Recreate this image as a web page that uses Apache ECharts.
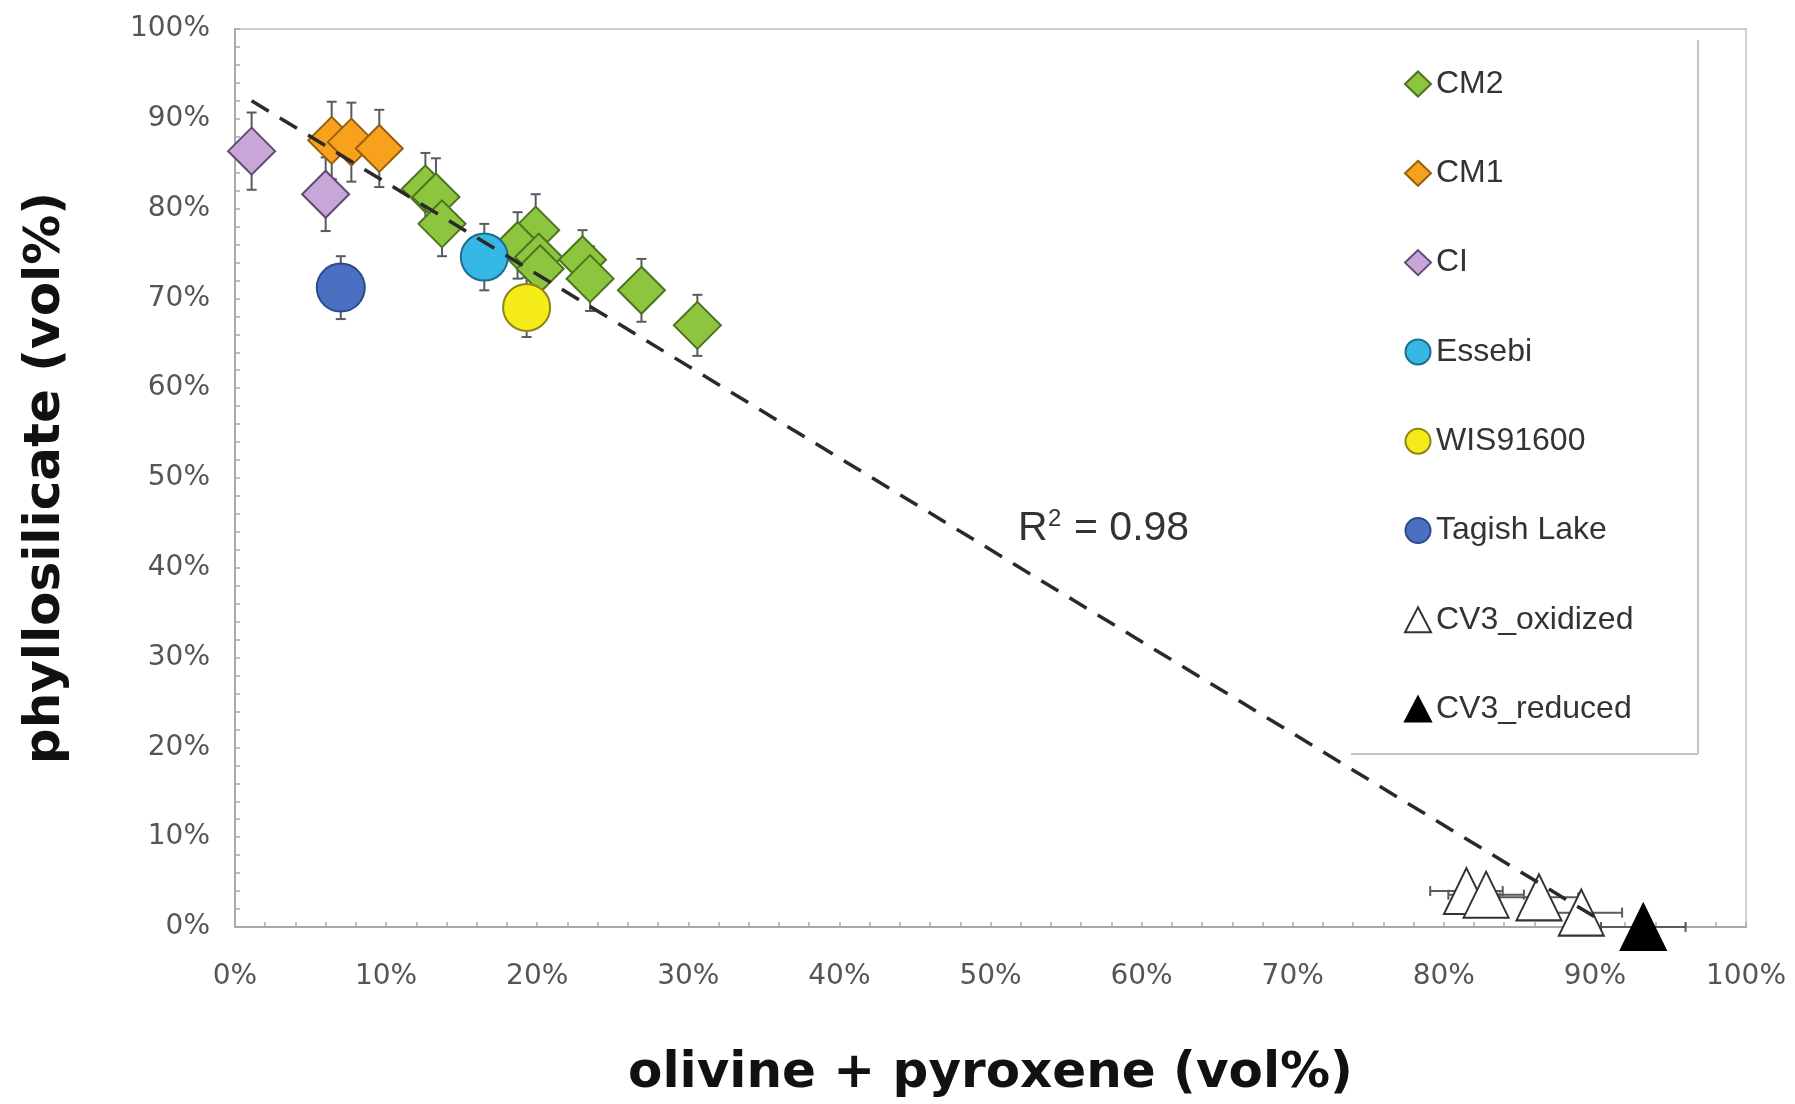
<!DOCTYPE html>
<html>
<head>
<meta charset="utf-8">
<script src="https://cdn.jsdelivr.net/npm/echarts@6/dist/echarts.min.js"></script>
<style>
html,body{margin:0;padding:0;background:#fff;}
#chart{width:1795px;height:1104px;}
</style>
</head>
<body>
<div id="chart"></div>
<script>
// ---- data ----
const tickLabels = ['0%','10%','20%','30%','40%','50%','60%','70%','80%','90%','100%'];

const cm2X   = [12.6, 13.3, 13.7, 19.9, 18.7, 20.1, 20.2, 23.0, 23.5, 26.9, 30.6];
const cm2Y   = [82.2, 81.3, 78.3, 77.6, 75.9, 74.6, 73.3, 74.3, 72.2, 70.9, 67.0];
const cm2Err = [4.0, 4.3, 3.6, 4.0, 3.7, 3.5, 3.5, 3.3, 3.6, 3.5, 3.4];

const cm1X   = [6.4, 7.7, 9.55];
const cm1Y   = [87.6, 87.4, 86.7];
const cm1Err = [4.3, 4.4, 4.3];

const ciX    = [1.1, 6.0];
const ciY    = [86.4, 81.6];
const ciErr  = [4.3, 4.1];

const essebiX   = [16.5];
const essebiY   = [74.6];
const essebiErr = [3.7];

const wisX   = [19.3];
const wisY   = [69.0];
const wisErr = [3.3];

const tagishX   = [7.0];
const tagishY   = [71.2];
const tagishErr = [3.5];

const cv3oxX    = [81.5, 82.8, 86.3, 89.1];
const cv3oxY    = [4.0, 3.6, 3.3, 1.6];
const cv3oxXErr = [2.4, 2.5, 2.6, 2.7];

const cv3redX    = [93.2];
const cv3redY    = [0];
const cv3redXErr = [2.8];

const fitX = [1.1, 90.5];
const fitY = [92.0, 0.6];

const seriesNames = ['CM2','CM1','CI','Essebi','WIS91600','Tagish Lake','CV3_oxidized','CV3_reduced'];

// ---- build ----
function pts(xs, ys){ return xs.map((x,i)=>[x, ys[i]]); }
function errPts(xs, ys, xe, ye){ return xs.map((x,i)=>[x, ys[i], xe ? xe[i] : 0, ye ? ye[i] : 0]); }

const errData = [].concat(
  errPts(cm2X, cm2Y, null, cm2Err),
  errPts(cm1X, cm1Y, null, cm1Err),
  errPts(ciX, ciY, null, ciErr),
  errPts(essebiX, essebiY, null, essebiErr),
  errPts(wisX, wisY, null, wisErr),
  errPts(tagishX, tagishY, null, tagishErr),
  errPts(cv3oxX, cv3oxY, cv3oxXErr, null),
  errPts(cv3redX, cv3redY, cv3redXErr, null)
);

const chart = echarts.init(document.getElementById('chart'), null, {renderer:'canvas'});

const errColor = '#5a5a5a';
const capHalf = 5;

function renderErr(params, api){
  const x = api.value(0), y = api.value(1), xe = api.value(2), ye = api.value(3);
  const children = [];
  const ls = {stroke: errColor, lineWidth: 2};
  if (ye > 0){
    const top = api.coord([x, y + ye]);
    const bot = api.coord([x, y - ye]);
    children.push({type:'line', shape:{x1:top[0], y1:top[1], x2:bot[0], y2:bot[1]}, style:ls});
    children.push({type:'line', shape:{x1:top[0]-capHalf, y1:top[1], x2:top[0]+capHalf, y2:top[1]}, style:ls});
    children.push({type:'line', shape:{x1:bot[0]-capHalf, y1:bot[1], x2:bot[0]+capHalf, y2:bot[1]}, style:ls});
  }
  if (xe > 0){
    const l = api.coord([x - xe, y]);
    const r = api.coord([x + xe, y]);
    children.push({type:'line', shape:{x1:l[0], y1:l[1], x2:r[0], y2:r[1]}, style:ls});
    children.push({type:'line', shape:{x1:l[0], y1:l[1]-capHalf, x2:l[0], y2:l[1]+capHalf}, style:ls});
    children.push({type:'line', shape:{x1:r[0], y1:r[1]-capHalf, x2:r[0], y2:r[1]+capHalf}, style:ls});
  }
  return {type:'group', children};
}

function scat(name, data, symbol, size, fill, border, z){
  return {
    name, type:'scatter', data, symbol, symbolSize:size, z, clip:false,
    itemStyle:{color:fill, borderColor:border, borderWidth:2, opacity:1},
    emphasis:{disabled:true}
  };
}

const option = {
  animation:false,
  backgroundColor:'#fff',
  grid:{left:235, right:49, top:29, bottom:176, show:true, borderColor:'#cfcfcf', borderWidth:2},
  xAxis:{
    type:'value', min:0, max:100, interval:10,
    name:'olivine + pyroxene (vol%)', nameLocation:'middle', nameGap:122,
    nameTextStyle:{fontFamily:'DejaVu Sans', fontWeight:'bold', fontSize:50, color:'#111'},
    axisLine:{show:true, lineStyle:{color:'#aaa', width:2}},
    axisTick:{show:true, inside:true, length:5, lineStyle:{color:'#aaa', width:1.5}},
    minorTick:{show:true, splitNumber:5, length:5, lineStyle:{color:'#aaa', width:1.5}},
    splitLine:{show:false},
    axisLabel:{margin:36, fontFamily:'DejaVu Sans', fontSize:28, color:'#555',
      formatter:v=>tickLabels[Math.round(v/10)]}
  },
  yAxis:{
    type:'value', min:0, max:100, interval:10,
    name:'phyllosilicate (vol%)', nameLocation:'middle', nameGap:164, nameRotate:90,
    nameTextStyle:{fontFamily:'DejaVu Sans', fontWeight:'bold', fontSize:50, color:'#111'},
    axisLine:{show:true, lineStyle:{color:'#aaa', width:2}},
    axisTick:{show:true, inside:true, length:5, lineStyle:{color:'#aaa', width:1.5}},
    minorTick:{show:true, splitNumber:5, length:5, lineStyle:{color:'#aaa', width:1.5}},
    splitLine:{show:false},
    axisLabel:{margin:25, fontFamily:'DejaVu Sans', fontSize:28, color:'#555',
      formatter:v=>tickLabels[Math.round(v/10)]}
  },
  legend:{
    data:seriesNames, orient:'vertical', left:1399, top:61,
    itemWidth:26, itemHeight:25, itemGap:53.3,
    textStyle:{fontFamily:'Liberation Sans', fontSize:32, color:'#333', lineHeight:36},
    selectedMode:false
  },
  graphic:[
    {type:'line', shape:{x1:1698, y1:40, x2:1698, y2:754}, style:{stroke:'#c4c4c4', lineWidth:2}, z:10},
    {type:'line', shape:{x1:1351, y1:754, x2:1698, y2:754}, style:{stroke:'#c4c4c4', lineWidth:2}, z:10},
    {type:'text', x:1018, y:529, style:{text:'R', fontFamily:'Liberation Sans', fontSize:41, fill:'#333', align:'left', verticalAlign:'middle'}, z:10},
    {type:'text', x:1048, y:519, style:{text:'2', fontFamily:'Liberation Sans', fontSize:24, fill:'#333', align:'left', verticalAlign:'middle'}, z:10},
    {type:'text', x:1074, y:529, style:{text:'= 0.98', fontFamily:'Liberation Sans', fontSize:41, fill:'#333', align:'left', verticalAlign:'middle'}, z:10}
  ],
  series:[
    {
      name:'errorbars', type:'custom', data:errData, renderItem:renderErr,
      encode:{x:0, y:1}, z:1, clip:false, silent:true
    },
    scat('CM2', pts(cm2X, cm2Y), 'diamond', 47, '#8dc53f', '#4c7420', 3),
    scat('CM1', pts(cm1X, cm1Y), 'diamond', 47, '#f8a11d', '#95600f', 3),
    scat('CI', pts(ciX, ciY), 'diamond', 47, '#c8a7d8', '#5f4b70', 3),
    scat('Essebi', pts(essebiX, essebiY), 'circle', 47, '#35b8e6', '#1f6d8e', 3),
    scat('WIS91600', pts(wisX, wisY), 'circle', 47, '#f5eb19', '#8c8419', 3),
    scat('Tagish Lake', pts(tagishX, tagishY), 'circle', 48, '#4a71c1', '#2c4a8a', 3),
    scat('CV3_oxidized', pts(cv3oxX, cv3oxY), 'triangle', [45,46], '#ffffff', '#333333', 3),
    scat('CV3_reduced', pts(cv3redX, cv3redY), 'triangle', [45,46], '#000000', '#000000', 3),
    {
      name:'fit', type:'line', data:pts(fitX, fitY), showSymbol:false, symbol:'none',
      lineStyle:{color:'#2a2a2a', width:3.5, type:[20,13]}, z:5, silent:true, clip:false
    }
  ]
};
chart.setOption(option);
</script>
</body>
</html>
